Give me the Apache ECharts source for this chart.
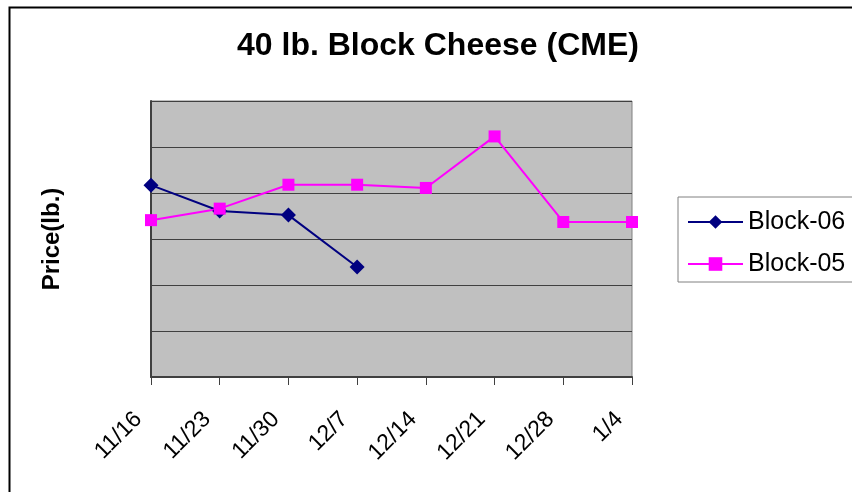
<!DOCTYPE html>
<html>
<head>
<meta charset="utf-8">
<script src="https://cdn.jsdelivr.net/npm/echarts@6/dist/echarts.min.js"></script>
<style>
html,body{margin:0;padding:0;background:#fff;}
#chart{width:852px;height:492px;}
</style>
</head>
<body>
<div id="chart"></div>
<script>
var categories = ['11/16','11/23','11/30','12/7','12/14','12/21','12/28','1/4'];
var block06 = [1.617, 1.561, 1.552, 1.439, null, null, null, null];
var block05 = [1.541, 1.566, 1.618, 1.618, 1.611, 1.723, 1.537, 1.537];
var yMin = 1.2, yMax = 1.8, yStep = 0.1;

var FONT = '"Liberation Sans", Arial, sans-serif';
var chart = echarts.init(document.getElementById('chart'), null, {renderer:'canvas'});
chart.setOption({
  animation: false,
  backgroundColor: '#ffffff',
  title: {
    text: '40 lb. Block Cheese (CME)',
    left: 232, top: 25,
    textStyle: {fontFamily: FONT, fontSize: 32, fontWeight: 'bold', color: '#000'}
  },
  graphic: [{
    type: 'rect', left: 7, top: 5, z: 100, silent: true,
    shape: {x: 0, y: 0, width: 900, height: 600},
    style: {fill: 'none', stroke: '#000', lineWidth: 2}
  }],
  legend: {
    orient: 'vertical', left: 678, top: 197,
    padding: [12, 30, 5, 9],
    itemWidth: 55, itemHeight: 17, itemGap: 16,
    backgroundColor: '#fff', borderColor: '#808080', borderWidth: 1,
    textStyle: {fontFamily: FONT, fontSize: 25, color: '#000', lineHeight: 26},
    data: ['Block-06', 'Block-05']
  },
  grid: {
    left: 151, top: 101, right: 220, bottom: 115,
    show: true, backgroundColor: '#C0C0C0', borderColor: '#808080', borderWidth: 1
  },
  xAxis: {
    type: 'category', data: categories, boundaryGap: false,
    axisLine: {lineStyle: {color: '#404040', width: 2}},
    axisTick: {show: true, length: 8, lineStyle: {color: '#404040', width: 1}},
    axisLabel: {rotate: 45, margin: 26, padding: [0, 18, 0, 0], fontFamily: FONT, fontSize: 23, color: '#000'},
    splitLine: {show: false}
  },
  yAxis: {
    type: 'value', min: yMin, max: yMax, interval: yStep,
    name: 'Price(lb.)', nameLocation: 'middle', nameGap: 87,
    nameTextStyle: {fontFamily: FONT, fontSize: 24, fontWeight: 'bold', color: '#000'},
    axisLine: {show: true, lineStyle: {color: '#404040', width: 2}},
    axisTick: {show: false},
    axisLabel: {show: false},
    splitLine: {show: true, lineStyle: {color: '#404040', width: 1}}
  },
  series: [
    {
      name: 'Block-06', type: 'line', data: block06,
      symbol: 'diamond', symbolSize: 15, connectNulls: false,
      itemStyle: {color: '#000080'},
      lineStyle: {color: '#000080', width: 2}
    },
    {
      name: 'Block-05', type: 'line', data: block05,
      symbol: 'rect', symbolSize: 12,
      itemStyle: {color: '#FF00FF'},
      lineStyle: {color: '#FF00FF', width: 2}
    }
  ]
});
</script>
</body>
</html>
